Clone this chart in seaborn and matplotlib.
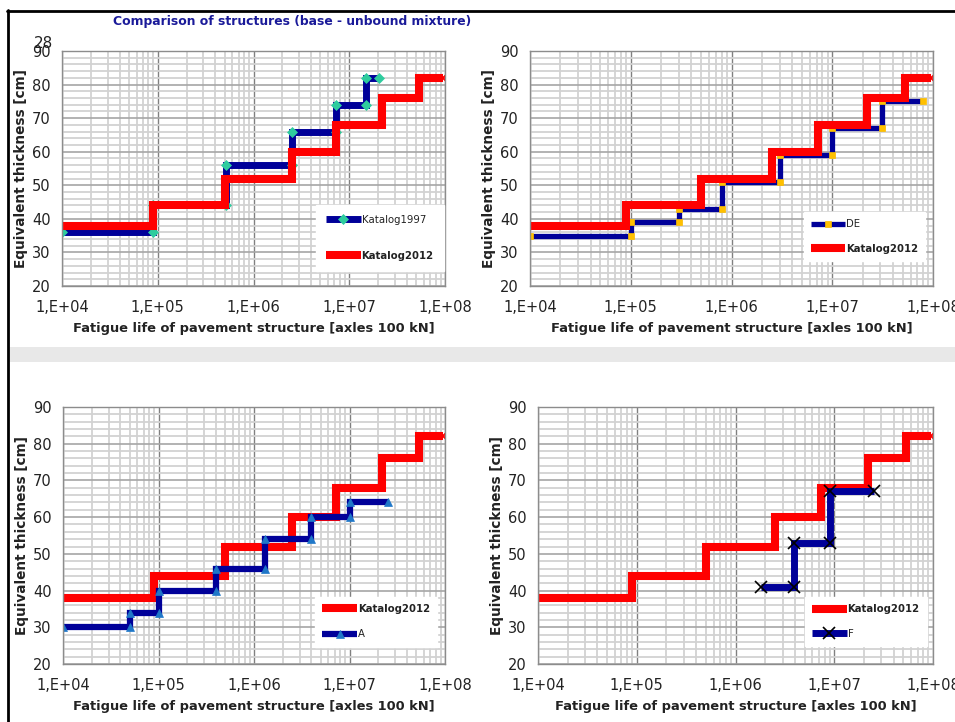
import numpy as np
import pandas as pd
import matplotlib
matplotlib.use("Agg")
import matplotlib.pyplot as plt
import matplotlib.ticker as mticker
from matplotlib.patches import Rectangle
from matplotlib.lines import Line2D
import seaborn as sns

# ---------------- data ----------------
title_text = "Comparison of structures (base - unbound mixture)"
x_label = "Fatigue life of pavement structure [axles 100 kN]"
y_label = "Equivalent thickness [cm]"
xtick_values = [1e4, 1e5, 1e6, 1e7, 1e8]
xtick_labels = ["1,E+04", "1,E+05", "1,E+06", "1,E+07", "1,E+08"]
ytick_values = [20, 30, 40, 50, 60, 70, 80, 90]

# step series: breakpoints along x, constant thickness level between them
k2012_breaks = [1.0e4, 9.0e4, 5.0e5, 2.5e6, 7.3e6, 2.2e7, 5.3e7, 9.5e7]
k2012_levels = [38, 44, 52, 60, 68, 76, 82]

k1997_breaks = [1.0e4, 9.0e4, 5.2e5, 2.5e6, 7.3e6, 1.5e7, 2.05e7]
k1997_levels = [36, 44, 56, 66, 74, 82]

de_breaks = [1.0e4, 1.0e5, 3.0e5, 8.0e5, 3.0e6, 1.0e7, 3.1e7, 8.0e7]
de_levels = [35, 39, 43, 51, 59, 67, 75]

a_breaks = [1.0e4, 5.0e4, 1.0e5, 4.0e5, 1.3e6, 4.0e6, 1.0e7, 2.5e7]
a_levels = [30, 34, 40, 46, 54, 60, 64]

f_breaks = [1.8e6, 3.9e6, 9.0e6, 2.5e7]
f_levels = [41, 53, 67]

# ---------------- style ----------------
sns.set_style("white")
plt.rcParams["font.family"] = ["DejaVu Sans"]

W, H = 955, 722
fig = plt.figure(figsize=(W / 100, H / 100), dpi=100)

NAVY = "#000099"
RED = "#FF0000"
TEXT = "#222222"


def px_rect(l, t, r, b):
    return [l / W, 1 - b / H, (r - l) / W, (b - t) / H]


def corners(breaks, levels):
    xs, ys = [], []
    for i, lev in enumerate(levels):
        xs += [breaks[i], breaks[i + 1]]
        ys += [lev, lev]
    return pd.DataFrame({"x": xs, "y": ys})


def k2012(ax):
    d = corners(k2012_breaks, k2012_levels)
    sns.lineplot(data=d, x="x", y="y", ax=ax, sort=False, estimator=None,
                 color=RED, lw=5.8, marker="x", markersize=5,
                 markeredgewidth=1.4, markeredgecolor=RED,
                 markerfacecolor=RED, label="Katalog2012",
                 solid_joinstyle="miter", solid_capstyle="butt")


def blue(ax, breaks, levels, name, marker, mfc, mec, ms, mew, lw):
    d = corners(breaks, levels)
    sns.lineplot(data=d, x="x", y="y", ax=ax, sort=False, estimator=None,
                 color=NAVY, lw=lw, marker=marker, markersize=ms,
                 markeredgewidth=mew, markeredgecolor=mec,
                 markerfacecolor=mfc, label=name,
                 solid_joinstyle="miter", solid_capstyle="butt")


def style_axes(ax, legend_center, labelspacing, borderpad):
    ax.set_xscale("log")
    ax.set_xlim(1e4, 1e8)
    ax.set_ylim(20, 90)
    ax.xaxis.set_major_locator(mticker.FixedLocator(xtick_values))
    ax.xaxis.set_major_formatter(mticker.FixedFormatter(xtick_labels))
    ax.xaxis.set_minor_locator(mticker.LogLocator(base=10, subs=np.arange(2, 10)))
    ax.xaxis.set_minor_formatter(mticker.NullFormatter())
    ax.yaxis.set_major_locator(mticker.FixedLocator(ytick_values))
    ax.yaxis.set_minor_locator(mticker.MultipleLocator(2))
    ax.set_axisbelow(True)
    ax.grid(which="minor", axis="both", color="#d2d2d2", lw=1.3)
    ax.grid(which="major", axis="y", color="#a6a6a6", lw=1.2)
    ax.grid(which="major", axis="x", color="#808080", lw=1.0)
    ax.tick_params(which="both", length=0, labelsize=10.5, colors=TEXT)
    ax.tick_params(axis="x", pad=10)
    ax.tick_params(axis="y", pad=8)
    for s in ax.spines.values():
        s.set_color("#8c8c8c")
        s.set_linewidth(1.0)
    ax.set_xlabel(x_label, fontsize=9.4, fontweight="bold", color=TEXT, labelpad=5)
    ax.set_ylabel(y_label, fontsize=9.8, fontweight="bold", color=TEXT, labelpad=3)
    leg = ax.legend(loc="center", bbox_to_anchor=legend_center, fontsize=7.3,
                    frameon=True, fancybox=False, framealpha=1, edgecolor="white",
                    facecolor="white", labelspacing=labelspacing, handlelength=3.4,
                    handletextpad=0.1, borderpad=borderpad, borderaxespad=0)
    for t in leg.get_texts():
        t.set_color(TEXT)
        if t.get_text() == "Katalog2012":
            t.set_fontweight("bold")


# ---------- top-left ----------
ax1 = fig.add_axes(px_rect(62, 51, 445, 286))
blue(ax1, k1997_breaks, k1997_levels, "Katalog1997", "D", "#2ECC9E", "#2ECC9E", 5.5, 0.5, 5.0)
k2012(ax1)
style_axes(ax1, (0.83, 0.205), 2.6, 1.0)

# ---------- top-right ----------
ax2 = fig.add_axes(px_rect(530, 51, 933, 286))
blue(ax2, de_breaks, de_levels, "DE", "s", "#FFC000", "#FFC000", 5.0, 0.5, 3.8)
k2012(ax2)
style_axes(ax2, (0.83, 0.21), 1.45, 0.7)

# ---------- bottom-left ----------
ax3 = fig.add_axes(px_rect(63, 407, 445, 664))
k2012(ax3)
blue(ax3, a_breaks, a_levels, "A", "^", "#1F77C8", "#1F77C8", 6.0, 0.5, 4.5)
style_axes(ax3, (0.82, 0.165), 1.55, 0.7)

# ---------- bottom-right ----------
ax4 = fig.add_axes(px_rect(538, 407, 933, 664))
k2012(ax4)
blue(ax4, f_breaks, f_levels, "F", "x", "black", "black", 8.0, 1.2, 5.0)
style_axes(ax4, (0.83, 0.165), 1.45, 0.7)

# ---------- decorations ----------
fig.text(292 / W, 1 - 22 / H, title_text, ha="center", va="center",
         fontsize=8.9, fontweight="bold", color="#1a1a99")
fig.text(43 / W, 1 - 43 / H, "28", ha="center", va="center", fontsize=11, color=TEXT)

fig.patches.append(Rectangle((9 / W, 1 - 362 / H), (W - 9) / W, 15 / H,
                             transform=fig.transFigure, facecolor="#e8e8e8",
                             edgecolor="none", zorder=-5))
fig.lines.append(Line2D([7.5 / W, 7.5 / W], [1 - 9.5 / H, 0], transform=fig.transFigure,
                        color="black", lw=2.0))
fig.lines.append(Line2D([6.5 / W, 1], [1 - 10.5 / H, 1 - 10.5 / H], transform=fig.transFigure,
                        color="black", lw=2.0))

fig.savefig("out.png", dpi=100)
